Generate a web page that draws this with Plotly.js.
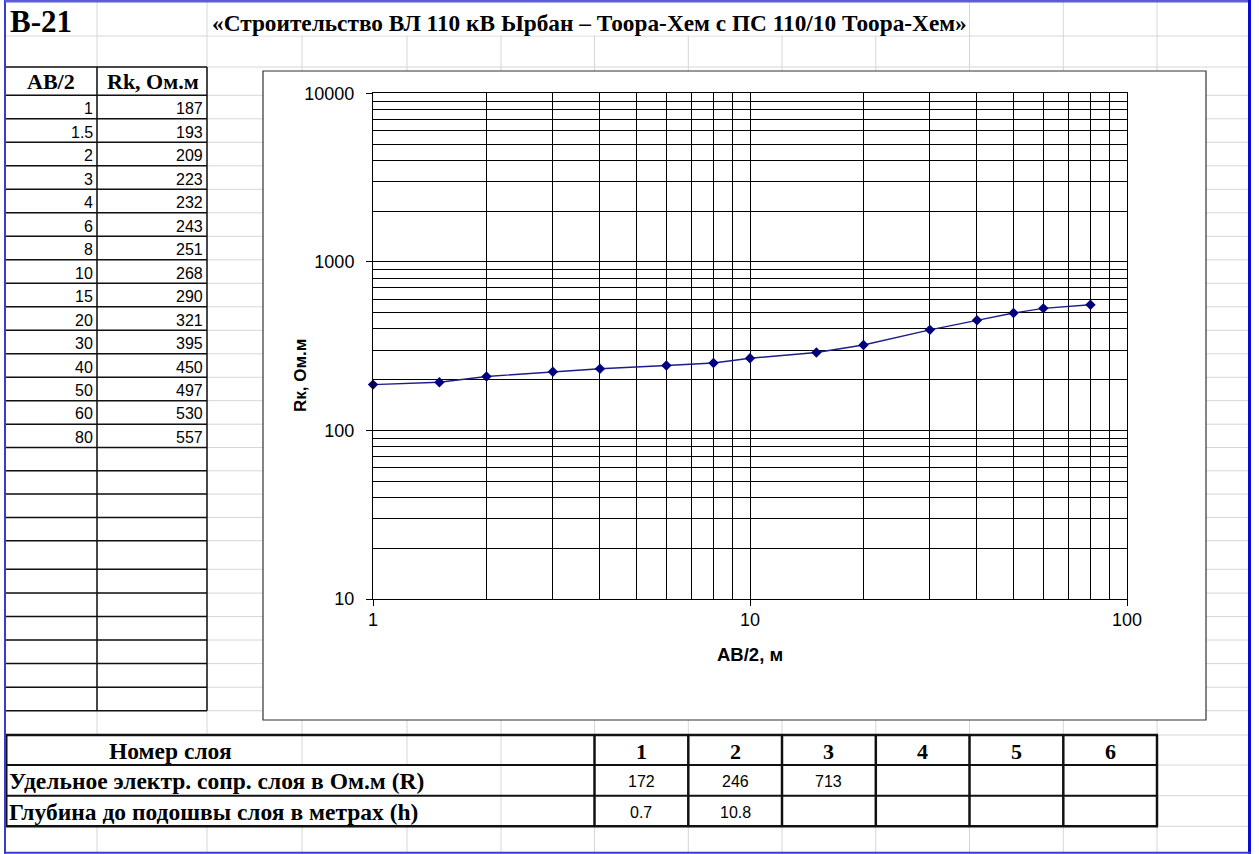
<!DOCTYPE html>
<html>
<head>
<meta charset="utf-8">
<script src="https://cdn.plot.ly/plotly-3.0.1.min.js"></script>
<style>
  html, body { margin: 0; padding: 0; background: #fff; }
  #sheet { width: 1259px; height: 854px; }
</style>
</head>
<body>
<div id="sheet"></div>
<script>
// Вертикальное электрическое зондирование, точка B-21
const pointName = 'B-21';
const projectTitle = '«Строительство ВЛ 110 кВ Ырбан – Тоора-Хем с ПС 110/10 Тоора-Хем»';

// Полуразнос питающих электродов AB/2, м и кажущееся сопротивление Rk, Ом.м
const abHalf = [1, 1.5, 2, 3, 4, 6, 8, 10, 15, 20, 30, 40, 50, 60, 80];
const rk = [187, 193, 209, 223, 232, 243, 251, 268, 290, 321, 395, 450, 497, 530, 557];

// Результаты интерпретации по слоям
const layerNumbers = [1, 2, 3, 4, 5, 6];
const layerResistivity = [172, 246, 713, null, null, null];
const layerDepth = [0.7, 10.8, null, null, null, null];

// Подписи осей и таблиц
const xTickVals = [1, 10, 100];
const yTickVals = [10, 100, 1000, 10000];
const tableHeaders = ['AB/2', 'Rk, Ом.м'];
const layerRowLabels = ['Номер слоя', 'Удельное электр. сопр. слоя в Ом.м (R)', 'Глубина до подошвы слоя в метрах (h)'];
const xTitle = 'AB/2, м';
const yTitle = 'Rк, Ом.м';

// ---- sheet geometry (pixels) ----
const W = 1259, H = 854;
const X = px => px / W;
const Y = py => 1 - py / H;

const rowLines = [36, 67, 95.3, 118.8, 142.3, 165.8, 189.3, 212.8, 236.3, 259.8, 283.3, 306.8,
  330.3, 353.8, 377.3, 400.7, 424.2, 447.5, 470.8, 494.1, 517.4, 540.7, 569.3, 593.1,
  616.6, 640, 663.6, 687.2, 710.7, 735, 765, 795.7, 826.3];
const colLines = [97, 207, 302, 407, 501, 594.5, 688.3, 782, 875.8, 969.5, 1063.3, 1157];

const GRAY = '#d6d6d6';
const INK = '#111';
const shapes = [];
function hLine(y, x0, x1, color, w) {
  shapes.push({type: 'line', xref: 'paper', yref: 'paper', layer: 'below',
    x0: X(x0), x1: X(x1), y0: Y(y), y1: Y(y), line: {color: color, width: w}});
}
function vLine(x, y0, y1, color, w) {
  shapes.push({type: 'line', xref: 'paper', yref: 'paper', layer: 'below',
    x0: X(x), x1: X(x), y0: Y(y0), y1: Y(y1), line: {color: color, width: w}});
}
function box(x0, y0, x1, y1, fill, lineColor, lw) {
  shapes.push({type: 'rect', xref: 'paper', yref: 'paper', layer: 'below',
    x0: X(x0), x1: X(x1), y0: Y(y1), y1: Y(y0), fillcolor: fill,
    line: {color: lineColor || 'rgba(0,0,0,0)', width: lw || 0}});
}

// spreadsheet cell grid
rowLines.forEach(y => hLine(y, 5, 1249, GRAY, 1));
colLines.forEach(x => vLine(x, 2, 852, GRAY, 1));

// title text overflows the cells of row 1
box(208, 2, 968.5, 35.5, '#fff');
// merged text area of the layer table
box(6, 735, 594, 826, '#fff');
vLine(302, 735, 765, GRAY, 1);
vLine(407, 735, 765, GRAY, 1);
vLine(501, 735, 826, GRAY, 1);

// chart frame
box(263, 71, 1206, 720, '#fff', '#333', 1.2);

// left data table borders
rowLines.filter(y => y >= 67 && y <= 711).forEach(y => hLine(y, 5, 207, INK, 1.5));
vLine(97, 67, 710.7, INK, 1.5);
vLine(207, 67, 710.7, INK, 1.5);

// layer table borders
hLine(735, 5, 1158, INK, 2.5);
hLine(765, 5, 1158, INK, 2);
hLine(795.7, 5, 1158, INK, 2);
hLine(826.3, 5, 1158, INK, 2.5);
[594.5, 688.3, 782, 875.8, 969.5, 1063.3, 1157].forEach(x => vLine(x, 735, 826.3, INK, 2.5));
vLine(6, 735, 826.3, INK, 3);

// sheet frame
vLine(5, 0, 854, '#3b3bd4', 2);
hLine(1, 5, 1251, '#5c5cd6', 3);
vLine(1249.5, 0, 854, '#0a0ad6', 3);
hLine(852.8, 5, 1251, '#3b3bd4', 2);

// ---- text ----
const SERIF = 'Liberation Serif, Times New Roman, serif';
const SANS = 'Liberation Sans, Arial, sans-serif';
const annotations = [];
function label(text, x, y, xanchor, font) {
  annotations.push({text: text, xref: 'paper', yref: 'paper', x: X(x), y: Y(y),
    xanchor: xanchor, yanchor: 'middle', showarrow: false, font: font, borderpad: 0});
}
const serifBold = s => ({family: SERIF, size: s, color: '#000', weight: 'bold'});
const sans = s => ({family: SANS, size: s, color: '#000'});

label('<b>' + pointName + '</b>', 9, 21, 'left', serifBold(31));
label('<b>' + projectTitle + '</b>', 211, 23, 'left', serifBold(23.3));

label('<b>' + tableHeaders[0] + '</b>', 51, 81, 'center', serifBold(22));
label('<b>' + tableHeaders[1] + '</b>', 153, 81, 'center', serifBold(22));

abHalf.forEach((v, i) => {
  const yc = (rowLines[i + 2] + rowLines[i + 3]) / 2 + 1.5;
  label(String(v), 94, yc, 'right', sans(16));
  label(String(rk[i]), 204, yc, 'right', sans(16));
});

label('<b>' + layerRowLabels[0] + '</b>', 170, 751, 'center', serifBold(23.5));
label('<b>' + layerRowLabels[1] + '</b>', 8, 781, 'left', serifBold(23.5));
label('<b>' + layerRowLabels[2] + '</b>', 8, 812, 'left', serifBold(23.5));

const layerCols = [594.5, 688.3, 782, 875.8, 969.5, 1063.3, 1157];
layerNumbers.forEach((n, i) => {
  const xc = (layerCols[i] + layerCols[i + 1]) / 2;
  label('<b>' + n + '</b>', xc, 751, 'center', serifBold(22));
  if (layerResistivity[i] !== null) label(String(layerResistivity[i]), xc, 781, 'center', sans(16));
  if (layerDepth[i] !== null) label(String(layerDepth[i]), xc, 812, 'center', sans(16));
});

// axis titles
label('<b>' + xTitle + '</b>', 750, 654, 'center', {family: SANS, size: 18.5, color: '#000'});
annotations.push({text: '<b>' + yTitle + '</b>', xref: 'paper', yref: 'paper', x: X(300), y: Y(376),
  xanchor: 'center', yanchor: 'middle', textangle: -90, showarrow: false,
  font: {family: SANS, size: 17, color: '#000'}});

// minor grid: 2..9 within each decade
function minorVals(fromExp, toExp) {
  const out = [];
  for (let e = fromExp; e < toExp; e++) {
    for (let m = 2; m <= 9; m++) out.push(m * Math.pow(10, e));
  }
  return out;
}

const axisCommon = {
  type: 'log', tickmode: 'array', ticks: 'outside', ticklen: 6, tickwidth: 1, tickcolor: '#000',
  showline: true, linecolor: '#000', linewidth: 1, mirror: true,
  showgrid: true, gridcolor: '#000', gridwidth: 1, zeroline: false, fixedrange: true,
  tickfont: {family: SANS, size: 18, color: '#000'}
};

const trace = {
  x: abHalf, y: rk, type: 'scatter', mode: 'lines+markers', cliponaxis: false,
  line: {color: '#1c1c8a', width: 1.4},
  marker: {symbol: 'diamond', size: 8, color: '#000080', line: {width: 0}},
  hoverinfo: 'skip'
};

const layout = {
  width: W, height: H, margin: {l: 0, r: 0, t: 0, b: 0},
  paper_bgcolor: '#fff', plot_bgcolor: 'rgba(0,0,0,0)', showlegend: false,
  xaxis: Object.assign({}, axisCommon, {
    range: [0, 2], domain: [X(373), X(1127)],
    tickvals: xTickVals, ticktext: xTickVals.map(String), ticklabelstandoff: -2,
    minor: {tickmode: 'array', tickvals: minorVals(0, 2), showgrid: true, gridcolor: '#000', gridwidth: 1, ticks: ''}
  }),
  yaxis: Object.assign({}, axisCommon, {
    range: [1, 4], domain: [Y(599), Y(93.3)],
    tickvals: yTickVals, ticktext: yTickVals.map(String), ticklabelstandoff: 8,
    minor: {tickmode: 'array', tickvals: minorVals(1, 4), showgrid: true, gridcolor: '#000', gridwidth: 1, ticks: ''}
  }),
  shapes: shapes,
  annotations: annotations
};

Plotly.newPlot('sheet', [trace], layout, {staticPlot: true, displayModeBar: false});
</script>
</body>
</html>
